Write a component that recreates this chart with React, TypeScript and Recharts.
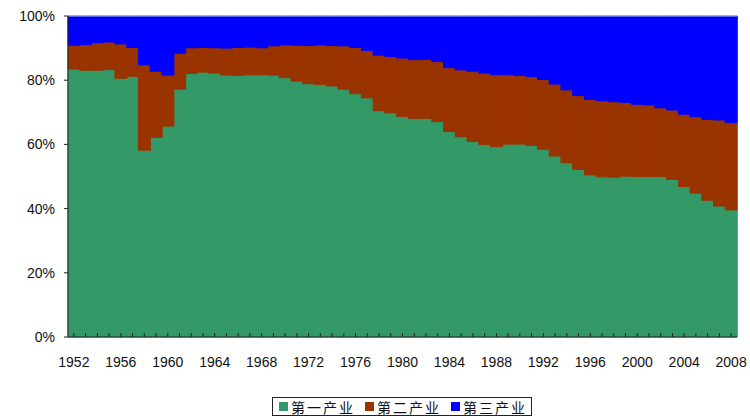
import { BarChart, Bar, XAxis, YAxis, Legend, ReferenceLine } from 'recharts'

// 1952-2008, employment share by sector (%)
const years = [
  1952, 1953, 1954, 1955, 1956, 1957, 1958, 1959, 1960, 1961,
  1962, 1963, 1964, 1965, 1966, 1967, 1968, 1969, 1970, 1971,
  1972, 1973, 1974, 1975, 1976, 1977, 1978, 1979, 1980, 1981,
  1982, 1983, 1984, 1985, 1986, 1987, 1988, 1989, 1990, 1991,
  1992, 1993, 1994, 1995, 1996, 1997, 1998, 1999, 2000, 2001,
  2002, 2003, 2004, 2005, 2006, 2007, 2008,
]
const primary = [
  83.5, 83.1, 83.1, 83.3, 80.6, 81.2, 58.2, 62.2, 65.7, 77.2,
  82.1, 82.5, 82.2, 81.6, 81.5, 81.7, 81.7, 81.6, 80.8, 79.7,
  78.9, 78.7, 78.2, 77.2, 75.8, 74.5, 70.5, 69.8, 68.7, 68.1,
  68.1, 67.1, 64.0, 62.4, 60.9, 60.0, 59.3, 60.1, 60.1, 59.7,
  58.5, 56.4, 54.3, 52.2, 50.5, 49.9, 49.8, 50.1, 50.0, 50.0,
  50.0, 49.1, 46.9, 44.8, 42.6, 40.8, 39.6,
]
const secondary = [
  7.4, 8.0, 8.6, 8.6, 10.7, 9.0, 26.6, 20.6, 15.9, 11.2,
  8.0, 7.7, 7.9, 8.4, 8.7, 8.6, 8.4, 9.1, 10.2, 11.2,
  11.9, 12.3, 12.6, 13.5, 14.4, 14.8, 17.3, 17.6, 18.2, 18.3,
  18.4, 18.7, 19.9, 20.8, 21.9, 22.2, 22.4, 21.6, 21.4, 21.4,
  21.7, 22.4, 22.7, 23.0, 23.5, 23.7, 23.5, 23.0, 22.5, 22.3,
  21.4, 21.6, 22.5, 23.8, 25.2, 26.8, 27.2,
]
const tertiary = [
  9.1, 8.9, 8.3, 8.1, 8.7, 9.8, 15.2, 17.2, 18.4, 11.6,
  9.9, 9.8, 9.9, 10.0, 9.8, 9.7, 9.9, 9.3, 9.0, 9.1,
  9.2, 9.0, 9.2, 9.3, 9.8, 10.7, 12.2, 12.6, 13.1, 13.6,
  13.5, 14.2, 16.1, 16.8, 17.2, 17.8, 18.3, 18.3, 18.5, 18.9,
  19.8, 21.2, 23.0, 24.8, 26.0, 26.4, 26.7, 26.9, 27.5, 27.7,
  28.6, 29.3, 30.6, 31.4, 32.2, 32.4, 33.2,
]
const seriesNames = ['第一产业', '第二产业', '第三产业']
const seriesKeys = ['primary', 'secondary', 'tertiary']
const colors = ['#339966', '#993300', '#0000ff']
const yTicks = [0, 0.2, 0.4, 0.6, 0.8, 1]

const data = years.map((y, i) => ({
  year: String(y),
  primary: primary[i],
  secondary: secondary[i],
  tertiary: tertiary[i],
}))

const font = '"Liberation Sans", Arial, sans-serif'

function YearTick({ x, y, payload, index }: any) {
  return (
    <g>
      <line x1={x} x2={x} y1={y} y2={y - 4} stroke="#222" />
      {index % 4 === 0 && (
        <text x={x} y={y + 30} textAnchor="middle" fontSize={14} fill="#111" fontFamily={font}>
          {payload.value}
        </text>
      )}
    </g>
  )
}

function LegendBox() {
  return (
    <div
      style={{
        display: 'inline-flex',
        alignItems: 'center',
        height: 17,
        border: '1px solid #222',
        padding: '0 4px 0 6px',
        gap: 10,
        fontFamily: '"Noto Sans CJK SC", sans-serif',
        fontSize: 14,
        letterSpacing: 2,
        color: '#111',
        background: '#fff',
      }}
    >
      {seriesNames.map((n, i) => (
        <span key={n} style={{ display: 'inline-flex', alignItems: 'center', gap: 3 }}>
          <span style={{ width: 9, height: 9, background: colors[i], display: 'inline-block' }} />
          {n}
        </span>
      ))}
    </div>
  )
}

export default function App() {
  return (
    <div style={{ width: 750, height: 416, background: '#fff' }}>
      <style>{'body{margin:0}'}</style>
      <BarChart
        width={750}
        height={416}
        data={data}
        stackOffset="expand"
        barCategoryGap={0}
        margin={{ top: 16, right: 13, left: 0, bottom: 30 }}
      >
        <XAxis
          dataKey="year"
          interval={0}
          tick={<YearTick />}
          tickLine={false}
          tickSize={0}
          tickMargin={0}
          height={30}
          axisLine={{ stroke: '#222' }}
        />
        <YAxis
          width={68}
          domain={[0, 1]}
          ticks={yTicks}
          tickFormatter={(v: number) => `${Math.round(v * 100)}%`}
          tick={{ fill: '#111', fontSize: 14, fontFamily: font }}
          tickSize={4}
          tickMargin={9}
          axisLine={{ stroke: '#222' }}
          tickLine={{ stroke: '#222' }}
        />
        {seriesKeys.map((k, i) => (
          <Bar
            key={k}
            dataKey={k}
            name={seriesNames[i]}
            stackId="a"
            fill={colors[i]}
            stroke={colors[i]}
            strokeWidth={1}
            isAnimationActive={false}
          />
        ))}
        <ReferenceLine y={1} stroke="#c8c8e6" />
        <Legend
          verticalAlign="bottom"
          content={<LegendBox />}
          wrapperStyle={{ left: 272, bottom: 0, width: 'auto' }}
        />
      </BarChart>
    </div>
  )
}
